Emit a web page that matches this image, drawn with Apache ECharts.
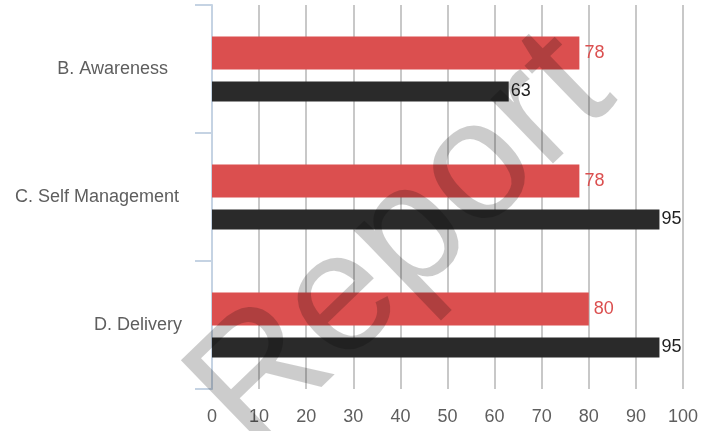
<!DOCTYPE html>
<html>
<head>
<meta charset="utf-8">
<script src="https://cdn.jsdelivr.net/npm/echarts@6/dist/echarts.min.js"></script>
<style>
html,body{margin:0;padding:0;background:#fff;}
#chart{width:711px;height:431px;}
</style>
</head>
<body>
<div id="chart"></div>
<script>
const categories = ['B. Awareness', 'C. Self Management', 'D. Delivery'];
const labelPads = [14, 3, 0];
const redValues = [78, 78, 80];
const blackValues = [63, 95, 95];
const xTicks = [0, 10, 20, 30, 40, 50, 60, 70, 80, 90, 100];

const chart = echarts.init(document.getElementById('chart'));
const font = '"Liberation Sans", Arial, sans-serif';
chart.setOption({
  animation: false,
  grid: { left: 212, right: 28, top: 5, bottom: 42, containLabel: false },
  xAxis: {
    type: 'value', min: xTicks[0], max: xTicks[xTicks.length - 1], interval: 10,
    axisLine: { show: false }, axisTick: { show: false },
    splitLine: { show: true, lineStyle: { color: '#c8c8c8', width: 2 } },
    axisLabel: { color: '#5e5e5e', fontSize: 18, fontFamily: font, margin: 19 }
  },
  yAxis: {
    type: 'category', inverse: true,
    data: categories.map((c, i) => ({ value: c, textStyle: { padding: [4, labelPads[i], 0, 0] } })),
    axisLine: { show: true, lineStyle: { color: '#c5d3e3', width: 2 } },
    axisTick: { show: true, length: 17, lineStyle: { color: '#c5d3e3', width: 2 } },
    axisLabel: { color: '#5e5e5e', fontSize: 18, fontFamily: font, margin: 30 },
    splitLine: { show: false }
  },
  series: [
    {
      type: 'bar', data: redValues, barWidth: 33, barGap: '36%',
      itemStyle: { color: '#db4f4f' },
      label: { show: true, position: 'right', distance: 5, color: '#db4f4f', fontSize: 18, fontFamily: font }
    },
    {
      type: 'bar', data: blackValues, barWidth: 20,
      itemStyle: { color: '#2a2a2a' },
      label: { show: true, position: 'right', distance: 2, color: '#222', fontSize: 18, fontFamily: font }
    }
  ],
  graphic: [{
    type: 'text', x: 403, y: 243, rotation: 44 * Math.PI / 180, z: 100, silent: true,
    style: {
      text: 'Report', align: 'center', verticalAlign: 'middle',
      font: '170px "Liberation Sans", Arial, sans-serif',
      fill: 'rgba(0,0,0,0.2)'
    }
  }]
});
</script>
</body>
</html>
